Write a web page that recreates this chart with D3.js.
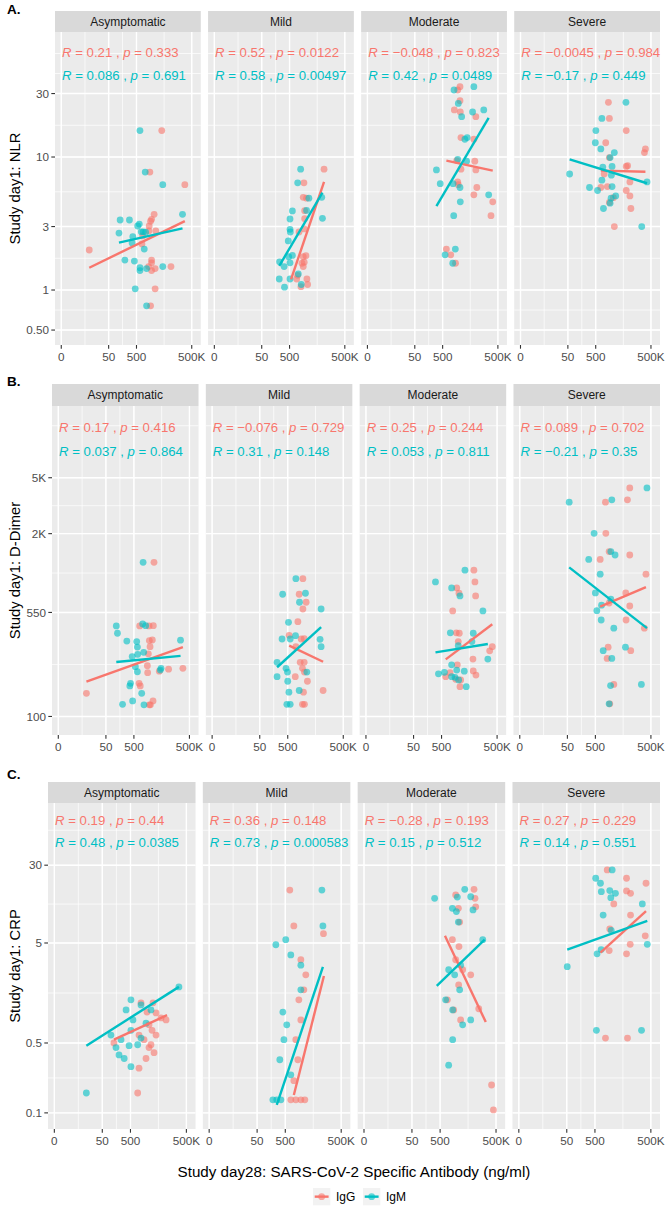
<!DOCTYPE html>
<html><head><meta charset="utf-8">
<script src="https://cdn.jsdelivr.net/npm/d3@7"></script>
<style>body{margin:0;background:#fff}text{white-space:pre}</style>
</head><body>
<svg id="chart" width="670" height="1209"></svg>
<script>
// ---------------- DATA ----------------
const facets = ["Asymptomatic", "Mild", "Moderate", "Severe"];
const seriesNames = ["IgG", "IgM"];
const xTickValues = [0, 50, 500, 500000];
const xTickLabels = ["0", "50", "500", "500K"];

const nlrTicks = [0.5, 1, 3, 10, 30];
const nlrTickLabels = ["0.50", "1", "3", "10", "30"];
const ddTicks = [100, 550, 2000, 5000];
const ddTickLabels = ["100", "550", "2K", "5K"];
const crpTicks = [0.1, 0.5, 5, 30];
const crpTickLabels = ["0.1", "0.5", "5", "30"];

// NLR
const nlr_asym_igg_x = [11800, 2670, 211000, 9.2, 4550, 3300, 2910, 2450, 2360, 5600, 1080, 990, 3300, 3300, 3300, 5140, 37300, 5140, 2910, 2280];
const nlr_asym_igg_y = [15.8, 7.7, 6.2, 2.0, 3.71, 3.4, 3.29, 3.03, 2.78, 2.78, 2.55, 2.22, 1.68, 1.6, 1.40, 1.45, 1.50, 1.02, 0.76, 1.50];
const nlr_asym_igm_x = [773, 1490, 13400, 130, 280, 710, 580, 118, 370, 349, 1160, 910, 1570, 1320, 192, 420, 773, 773, 1770, 13400, 450, 1770, 158000];
const nlr_asym_igm_y = [15.8, 7.7, 6.2, 3.36, 3.36, 3.13, 3.03, 2.68, 2.52, 2.26, 2.74, 2.74, 2.72, 2.03, 1.68, 1.65, 1.47, 1.40, 1.45, 1.50, 1.02, 0.76, 3.71];
const nlr_mild_igg_x = [37300, 3020, 2770, 4200, 3300, 3300, 3130, 1630, 2770, 3870, 2360, 3130, 2770, 1380, 4380, 4780, 2080, 1220];
const nlr_mild_igg_y = [8.1, 6.4, 4.98, 4.9, 3.95, 3.44, 2.88, 2.73, 1.78, 1.81, 1.59, 1.62, 1.5, 1.29, 1.21, 1.1, 1.06, 1.21];
const nlr_mild_igm_x = [2000, 1380, 5600, 28000, 30600, 710, 530, 530, 550, 450, 4200, 710, 465, 220, 320, 530, 214, 330, 530, 1490, 2160];
const nlr_mild_igm_y = [8.1, 6.4, 4.9, 4.98, 3.46, 3.93, 3.42, 2.86, 2.73, 2.34, 3.97, 1.82, 1.78, 1.63, 1.5, 1.6, 1.21, 1.05, 1.21, 1.32, 1.1];
const nlr_mod_igg_x = [4380, 3300, 4380, 2160, 4550, 31800, 4950, 24800, 2910, 28000, 4950, 31800, 3300, 3550, 36000, 24800, 263000, 211000, 800, 1380, 2500];
const nlr_mod_igg_y = [33.8, 31.9, 26.5, 22.6, 21.8, 20.1, 14, 13.6, 9.4, 9.3, 8.1, 8.0, 6.5, 6.2, 5.9, 5.2, 4.6, 3.62, 2.03, 1.84, 1.59];
const nlr_mod_igm_x = [2080, 24800, 3550, 21100, 85700, 5400, 8100, 10800, 3300, 10000, 300, 410, 1840, 4380, 158000, 4550, 2000, 2450, 680, 1770];
const nlr_mod_igm_y = [31.9, 33.8, 25.3, 21.8, 22.6, 20.1, 13.6, 14, 9.6, 9.3, 8.0, 6.3, 6.3, 5.9, 5.2, 4.6, 3.62, 2.03, 1.84, 1.59];
const nlr_sev_igg_x = [2450, 2770, 22700, 1750, 250000, 221000, 2770, 22700, 27000, 1440, 36000, 950, 2160, 22700, 36000, 4550, 2770, 40700, 5140];
const nlr_sev_igg_y = [25.8, 19.5, 15.8, 12.8, 11.5, 10.8, 9.9, 8.5, 8.6, 7.45, 6.5, 5.9, 6.0, 5.6, 5.1, 4.95, 4.55, 4.1, 3.0];
const nlr_sev_igm_x = [21900, 1080, 510, 484, 950, 5140, 3020, 1220, 3870, 58, 3550, 1080, 306000, 300, 630, 3870, 6100, 3420, 3020, 1320, 158000];
const nlr_sev_igm_y = [25.8, 19.5, 15.8, 12.8, 11.5, 10.8, 9.9, 8.4, 8.5, 7.45, 7.3, 6.7, 6.5, 5.9, 5.6, 6.0, 5.1, 4.9, 4.5, 4.1, 3.0];
// fitted lm lines [x0, y0, x1, y1]
const nlr_fit_igg = [[9.2, 1.47, 211000, 3.3], [600, 1.2, 37300, 6.5], [800, 9.4, 263000, 7.9], [950, 7.9, 250000, 7.75]];
const nlr_fit_igm = [[118, 2.27, 158000, 2.91], [214, 1.52, 30600, 5.4], [300, 4.28, 158000, 19.7], [58, 9.6, 306000, 6.35]];
const nlr_R_igg = ["0.21", "0.52", "\u22120.048", "\u22120.0045"];
const nlr_p_igg = ["0.333", "0.0122", "0.823", "0.984"];
const nlr_R_igm = ["0.086", "0.58", "0.42", "\u22120.17"];
const nlr_p_igm = ["0.691", "0.00497", "0.0489", "0.449"];

// D-Dimer
const dd_asym_igg_x = [6100, 3300, 5600, 1030, 3420, 4950, 3730, 3020, 2670, 2770, 11800, 37300, 221000, 950, 1100, 9.2, 5400, 3420, 3900];
const dd_asym_igg_y = [1250, 441, 443, 441, 347, 350, 314, 279, 230, 205, 210, 217, 220, 172, 165, 146, 129, 121, 121];
const dd_asym_igm_x = [1570, 118, 130, 1490, 2160, 280, 710, 773, 1690, 800, 435, 165000, 600, 773, 14600, 13400, 380, 358, 1320, 450, 197, 1750];
const dd_asym_igm_y = [1250, 441, 391, 455, 443, 344, 341, 312, 286, 277, 267, 349, 226, 208, 220, 214, 172, 165, 146, 129, 122, 121];
const dd_mild_igg_x = [3300, 2080, 4950, 3300, 1770, 600, 2670, 3870, 1380, 2360, 3870, 3130, 4000, 1280, 5800, 3550, 40700, 3130, 4000];
const dd_mild_igg_y = [957, 741, 650, 582, 473, 378, 356, 358, 314, 243, 243, 220, 207, 192, 178, 149, 153, 122, 122];
const dd_mild_igm_x = [1380, 330, 2160, 4550, 31800, 550, 1320, 314, 680, 28000, 31800, 209, 435, 490, 5400, 209, 500, 580, 2080, 465, 680];
const dd_mild_igm_y = [957, 741, 650, 753, 582, 468, 376, 356, 356, 354, 314, 243, 220, 207, 207, 192, 178, 149, 153, 122, 122];
const dd_mod_igg_x = [28000, 31800, 3300, 4380, 34600, 2000, 3130, 4550, 4000, 275000, 199000, 24800, 3550, 25800, 36000, 840, 1440, 2910, 5400, 4950];
const dd_mod_igg_y = [1100, 906, 822, 753, 721, 564, 394, 391, 341, 314, 293, 256, 233, 211, 197, 192, 205, 184, 182, 163];
const dd_mod_igm_x = [9200, 304, 1750, 4950, 85700, 1490, 25800, 4000, 21900, 158000, 1750, 3300, 8450, 388, 710, 1770, 2670, 4200, 10800];
const dd_mod_igm_y = [1100, 906, 822, 721, 564, 394, 391, 319, 341, 256, 233, 214, 210, 201, 206, 192, 190, 182, 163];
const dd_sev_igg_x = [36000, 1750, 27000, 1840, 2770, 36000, 910, 270000, 21900, 2770, 36000, 22700, 221000, 2450, 40700, 2160, 4950, 3000];
const dd_sev_igg_y = [4230, 3350, 3480, 2010, 1490, 1410, 1310, 1030, 757, 641, 611, 486, 425, 311, 294, 259, 169, 123];
const dd_sev_igm_x = [306000, 58, 3870, 450, 3420, 5800, 290, 910, 500, 3420, 1080, 600, 1030, 4950, 21100, 1320, 3870, 3300, 153000, 2770];
const dd_sev_igm_y = [4230, 3350, 3480, 2010, 1490, 1410, 1310, 1030, 757, 683, 619, 566, 486, 425, 311, 294, 259, 166, 169, 123];
const dd_fit_igg = [[9.2, 177, 221000, 311], [600, 319, 40700, 245], [840, 255, 275000, 453], [910, 604, 270000, 832]];
const dd_fit_igm = [[118, 244, 165000, 270], [209, 224, 31800, 432], [304, 286, 158000, 328], [58, 1150, 306000, 425]];
const dd_R_igg = ["0.17", "\u22120.076", "0.25", "0.089"];
const dd_p_igg = ["0.416", "0.729", "0.244", "0.702"];
const dd_R_igm = ["0.037", "0.31", "0.053", "\u22120.21"];
const dd_p_igm = ["0.864", "0.148", "0.811", "0.35"];

// CRP
const crp_asym_igg_x = [1840, 8100, 3870, 11800, 21900, 4950, 7200, 40700, 1440, 11800, 2670, 4950, 9200, 3420, 1440, 1220, 6300, 130];
const crp_asym_igg_y = [1.26, 1.26, 1.02, 1.0, 0.89, 0.76, 0.67, 0.85, 0.6, 0.6, 0.54, 0.45, 0.40, 0.35, 0.28, 0.158, 0.48, 0.5];
const crp_asym_igm_x = [199000, 530, 1840, 350, 6300, 680, 102, 3420, 530, 232, 1840, 154, 447, 300, 530, 1220, 12.8, 197];
const crp_asym_igm_y = [1.82, 1.35, 1.2, 1.07, 1.07, 0.85, 0.6, 0.79, 0.67, 0.54, 0.56, 0.45, 0.47, 0.35, 0.29, 0.48, 0.158, 0.38];
const crp_mild_igg_x = [875, 1440, 3420, 6300, 4950, 2670, 3420, 1840, 2360, 1440, 990, 1840, 3420, 5600, 56000];
const crp_mild_igg_y = [16.9, 7.4, 3.4, 2.4, 1.7, 1.35, 0.85, 0.54, 0.34, 0.21, 0.135, 0.135, 0.135, 0.135, 6.2];
const crp_mild_igm_x = [46100, 52200, 232, 530, 990, 3420, 3420, 410, 600, 447, 320, 990, 182, 250, 350];
const crp_mild_igm_y = [16.9, 7.4, 4.8, 5.4, 3.8, 3.0, 1.7, 1.02, 0.76, 0.54, 0.34, 0.24, 0.135, 0.135, 0.135];
const crp_mod_igg_x = [3420, 33000, 37300, 4780, 40700, 5600, 2280, 5140, 3420, 8100, 21900, 4950, 1220, 2670, 6300, 59200, 288000, 363000];
const crp_mod_igg_y = [15.1, 17.2, 14, 11.1, 11.5, 8.1, 5.4, 4.6, 3.4, 2.7, 2.4, 1.9, 1.35, 1.07, 0.85, 1.1, 0.19, 0.107];
const crp_mod_igm_x = [320, 4200, 10500, 21900, 2280, 3730, 29100, 4780, 97000, 1440, 3020, 6300, 990, 2360, 5600, 8100, 2360, 1440, 21900];
const crp_mod_igm_y = [14, 14.4, 17.2, 14.5, 11.1, 10.3, 10.7, 8.1, 5.4, 2.7, 2.4, 3.0, 1.35, 1.07, 1.7, 0.76, 0.54, 0.30, 0.85];
const crp_sev_igg_x = [2280, 24800, 275000, 24800, 40700, 5140, 40700, 3130, 250000, 39000, 2910, 24800, 1840, 28000];
const crp_sev_igg_y = [26.9, 22.2, 19.8, 16.6, 15.7, 12.3, 9.5, 6.9, 5.9, 4.85, 4.2, 3.9, 0.56, 0.56];
const crp_sev_igm_x = [4200, 550, 990, 1100, 3130, 6300, 3550, 174000, 1380, 3730, 322000, 1080, 650, 52, 600, 158000];
const crp_sev_igm_y = [26.9, 22.2, 19.8, 16.3, 16.7, 15.7, 14.2, 12.3, 9.5, 6.7, 4.85, 4.3, 3.9, 2.9, 0.67, 0.67];
const crp_fit_igg = [[130, 0.54, 46000, 0.95], [1440, 0.151, 59200, 2.34], [910, 5.9, 141000, 0.81], [990, 4.0, 275000, 10.4]];
const crp_fit_igm = [[12.8, 0.47, 199000, 1.82], [250, 0.12, 52200, 2.88], [380, 1.86, 123000, 5.4], [52, 4.3, 322000, 8.3]];
const crp_R_igg = ["0.19", "0.36", "\u22120.28", "0.27"];
const crp_p_igg = ["0.44", "0.148", "0.193", "0.229"];
const crp_R_igm = ["0.48", "0.73", "0.15", "0.14"];
const crp_p_igm = ["0.0385", "0.000583", "0.512", "0.551"];

// ---------------- LAYOUT / STYLE ----------------
const FONT = "'Liberation Sans', Arial, Helvetica, sans-serif";
const COLORS = ["#F8766D", "#00BFC4"];
const W = 670, H = 1209, RIGHT = 660, GAP = 7.3;
const xFrac = [0.043, 0.368, 0.559, 0.938];

const rows = [
  { tag: "A.", tagY: 13.5, title: "Study day1: NLR", stripTop: 11, top: 32, bottom: 345, left: 55,
    ylim: [0.386, 87.1], ticks: nlrTicks, labels: nlrTickLabels, textY: [24.5, 47.5],
    pts: [[nlr_asym_igg_x, nlr_asym_igg_y, nlr_asym_igm_x, nlr_asym_igm_y],
          [nlr_mild_igg_x, nlr_mild_igg_y, nlr_mild_igm_x, nlr_mild_igm_y],
          [nlr_mod_igg_x, nlr_mod_igg_y, nlr_mod_igm_x, nlr_mod_igm_y],
          [nlr_sev_igg_x, nlr_sev_igg_y, nlr_sev_igm_x, nlr_sev_igm_y]],
    fits: [nlr_fit_igg, nlr_fit_igm], R: [nlr_R_igg, nlr_R_igm], P: [nlr_p_igg, nlr_p_igm] },
  { tag: "B.", tagY: 386, title: "Study day1: D-Dimer", stripTop: 384, top: 406, bottom: 735, left: 52,
    ylim: [73.8, 16200], ticks: ddTicks, labels: ddTickLabels, textY: [25.5, 49.5],
    pts: [[dd_asym_igg_x, dd_asym_igg_y, dd_asym_igm_x, dd_asym_igm_y],
          [dd_mild_igg_x, dd_mild_igg_y, dd_mild_igm_x, dd_mild_igm_y],
          [dd_mod_igg_x, dd_mod_igg_y, dd_mod_igm_x, dd_mod_igm_y],
          [dd_sev_igg_x, dd_sev_igg_y, dd_sev_igm_x, dd_sev_igm_y]],
    fits: [dd_fit_igg, dd_fit_igm], R: [dd_R_igg, dd_R_igm], P: [dd_p_igg, dd_p_igm] },
  { tag: "C.", tagY: 779, title: "Study day1: CRP", stripTop: 782, top: 803, bottom: 1129, left: 48,
    ylim: [0.069, 125.6], ticks: crpTicks, labels: crpTickLabels, textY: [22, 43.5],
    pts: [[crp_asym_igg_x, crp_asym_igg_y, crp_asym_igm_x, crp_asym_igm_y],
          [crp_mild_igg_x, crp_mild_igg_y, crp_mild_igm_x, crp_mild_igm_y],
          [crp_mod_igg_x, crp_mod_igg_y, crp_mod_igm_x, crp_mod_igm_y],
          [crp_sev_igg_x, crp_sev_igg_y, crp_sev_igm_x, crp_sev_igm_y]],
    fits: [crp_fit_igg, crp_fit_igm], R: [crp_R_igg, crp_R_igm], P: [crp_p_igg, crp_p_igm] }
];

const svg = d3.select("#chart");
svg.append("rect").attr("width", W).attr("height", H).attr("fill", "#ffffff");

const xT = v => Math.log10(v + 1);
const xBreaksT = xTickValues.map(xT);
// ggplot-style minor breaks (midpoints in transformed space)
function minorBreaks(majors, lo, hi) {
  let b = majors.slice();
  const bd = b[1] - b[0];
  if (lo < b[0]) b = [b[0] - bd].concat(b);
  if (hi > b[b.length - 1]) b = b.concat([b[b.length - 1] + bd]);
  const out = [];
  for (let i = 0; i < b.length - 1; i++) { out.push(b[i], (b[i] + b[i + 1]) / 2); }
  out.push(b[b.length - 1]);
  return out.filter(v => v >= lo && v <= hi);
}

rows.forEach(row => {
  const pw = (RIGHT - row.left - 3 * GAP) / 4;
  const y = d3.scaleLog().domain(row.ylim).range([row.bottom, row.top]);
  const yLogMaj = row.ticks.map(Math.log10);
  const yMinor = minorBreaks(yLogMaj, Math.log10(row.ylim[0]), Math.log10(row.ylim[1]));

  svg.append("text").attr("x", 7).attr("y", row.tagY).attr("font-family", FONT)
    .attr("font-weight", "bold").attr("font-size", 13.5).attr("fill", "#000").text(row.tag);
  svg.append("text")
    .attr("transform", `translate(${19.5},${(row.top + row.bottom) / 2}) rotate(-90)`)
    .attr("text-anchor", "middle").attr("font-family", FONT).attr("font-size", 14.8)
    .attr("fill", "#000").text(row.title);

  facets.forEach((fac, fi) => {
    const L = row.left + fi * (pw + GAP);
    const x = d3.scaleLinear().domain(xBreaksT).range(xFrac.map(f => L + f * pw));
    const xLo = x.invert(L), xHi = x.invert(L + pw);
    const xMinor = minorBreaks(xBreaksT, xLo, xHi);
    const g = svg.append("g");

    g.append("rect").attr("x", L).attr("y", row.stripTop).attr("width", pw)
      .attr("height", row.top - row.stripTop).attr("fill", "#D9D9D9");
    g.append("text").attr("x", L + pw / 2).attr("y", (row.stripTop + row.top) / 2 + 4.2)
      .attr("text-anchor", "middle").attr("font-family", FONT).attr("font-size", 12)
      .attr("fill", "#1A1A1A").text(fac);

    g.append("rect").attr("x", L).attr("y", row.top).attr("width", pw)
      .attr("height", row.bottom - row.top).attr("fill", "#EBEBEB");
    yMinor.forEach(v => g.append("line").attr("x1", L).attr("x2", L + pw)
      .attr("y1", y(Math.pow(10, v))).attr("y2", y(Math.pow(10, v)))
      .attr("stroke", "#fff").attr("stroke-width", 0.7));
    xMinor.forEach(v => g.append("line").attr("y1", row.top).attr("y2", row.bottom)
      .attr("x1", x(v)).attr("x2", x(v)).attr("stroke", "#fff").attr("stroke-width", 0.7));
    row.ticks.forEach(v => g.append("line").attr("x1", L).attr("x2", L + pw)
      .attr("y1", y(v)).attr("y2", y(v)).attr("stroke", "#fff").attr("stroke-width", 1.4));
    xBreaksT.forEach(v => g.append("line").attr("y1", row.top).attr("y2", row.bottom)
      .attr("x1", x(v)).attr("x2", x(v)).attr("stroke", "#fff").attr("stroke-width", 1.4));

    const cid = `clip-${row.tag[0]}-${fi}`;
    svg.append("clipPath").attr("id", cid).append("rect")
      .attr("x", L).attr("y", row.top).attr("width", pw).attr("height", row.bottom - row.top);
    const pg = g.append("g").attr("clip-path", `url(#${cid})`);

    const p = row.pts[fi];
    [0, 1].forEach(s => {
      const xs = p[s * 2], ys = p[s * 2 + 1];
      pg.selectAll(null).data(xs.map((v, i) => [v, ys[i]])).enter().append("circle")
        .attr("cx", d => x(xT(d[0]))).attr("cy", d => y(d[1])).attr("r", 3.4)
        .attr("fill", COLORS[s]).attr("fill-opacity", 0.6);
    });
    [0, 1].forEach(s => {
      const f = row.fits[s][fi];
      pg.append("line").attr("x1", x(xT(f[0]))).attr("y1", y(f[1]))
        .attr("x2", x(xT(f[2]))).attr("y2", y(f[3]))
        .attr("stroke", COLORS[s]).attr("stroke-width", 2.4).attr("stroke-linecap", "butt");
    });

    [0, 1].forEach(s => {
      const t = g.append("text").attr("x", L + 7).attr("y", row.top + row.textY[s])
        .attr("font-family", FONT).attr("font-size", 13.2).attr("fill", COLORS[s]);
      t.append("tspan").attr("font-style", "italic").text("R");
      t.append("tspan").text(" = " + row.R[s][fi] + " , ");
      t.append("tspan").attr("font-style", "italic").text("p");
      t.append("tspan").text(" = " + row.P[s][fi]);
    });

    xBreaksT.forEach((v, i) => {
      g.append("line").attr("x1", x(v)).attr("x2", x(v)).attr("y1", row.bottom)
        .attr("y2", row.bottom + 3.7).attr("stroke", "#333").attr("stroke-width", 1.1);
      g.append("text").attr("x", x(v)).attr("y", row.bottom + 16.3).attr("text-anchor", "middle")
        .attr("font-family", FONT).attr("font-size", 11.7).attr("fill", "#4D4D4D").text(xTickLabels[i]);
    });
    if (fi === 0) {
      row.ticks.forEach((v, i) => {
        g.append("line").attr("x1", L - 3.7).attr("x2", L).attr("y1", y(v)).attr("y2", y(v))
          .attr("stroke", "#333").attr("stroke-width", 1.1);
        g.append("text").attr("x", L - 6).attr("y", y(v)).attr("dy", "0.35em")
          .attr("text-anchor", "end").attr("font-family", FONT).attr("font-size", 11.7)
          .attr("fill", "#4D4D4D").text(row.labels[i]);
      });
    }
  });
});

svg.append("text").attr("x", 354).attr("y", 1177).attr("text-anchor", "middle")
  .attr("font-family", FONT).attr("font-size", 15.2).attr("fill", "#000")
  .text("Study day28: SARS-CoV-2 Specific Antibody (ng/ml)");

const legendX = [313, 363];
seriesNames.forEach((nm, s) => {
  const lx = legendX[s], ly = 1188;
  svg.append("rect").attr("x", lx).attr("y", ly).attr("width", 17.3).attr("height", 17.3).attr("fill", "#F2F2F2");
  svg.append("line").attr("x1", lx + 1.7).attr("x2", lx + 15.6).attr("y1", ly + 8.65).attr("y2", ly + 8.65)
    .attr("stroke", COLORS[s]).attr("stroke-width", 2.4);
  svg.append("circle").attr("cx", lx + 8.65).attr("cy", ly + 8.65).attr("r", 3.4)
    .attr("fill", COLORS[s]).attr("fill-opacity", 0.6);
  svg.append("text").attr("x", lx + 23).attr("y", ly + 8.65).attr("dy", "0.35em")
    .attr("font-family", FONT).attr("font-size", 12).attr("fill", "#000").text(nm);
});
</script>
</body></html>
